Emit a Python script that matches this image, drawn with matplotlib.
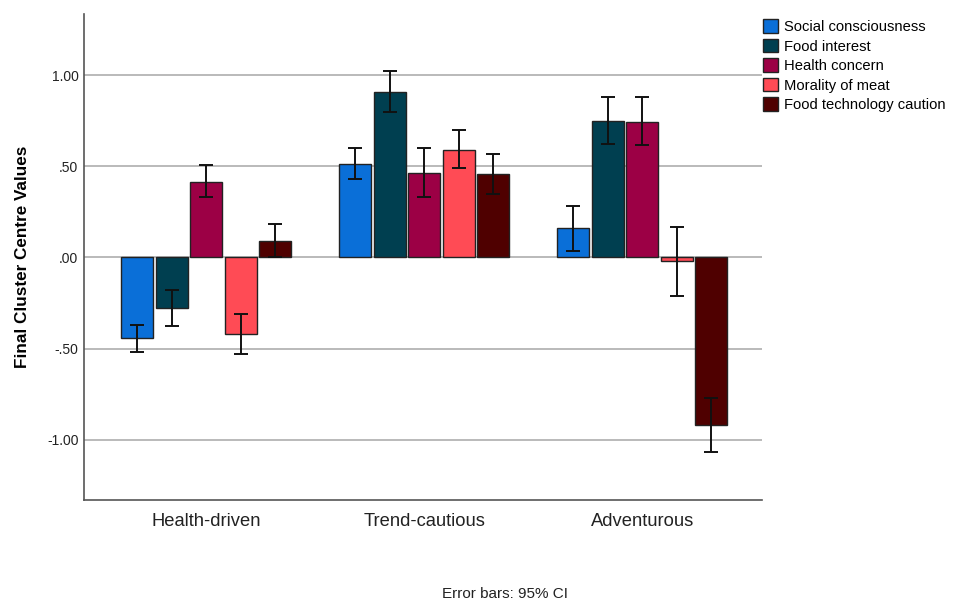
import matplotlib
matplotlib.use("Agg")
import matplotlib.pyplot as plt
import numpy as np
from matplotlib.patches import Patch

plt.rcParams['font.family'] = ['Liberation Sans', 'DejaVu Sans']

clusters = ["Health-driven", "Trend-cautious", "Adventurous"]
series = ["Social consciousness", "Food interest", "Health concern",
          "Morality of meat", "Food technology caution"]
colors = ["#0A6FD8", "#003F50", "#9C0045", "#FF4B55", "#4F0000"]

values = {
    "Social consciousness":    [-0.443, 0.512, 0.159],
    "Food interest":           [-0.277, 0.910, 0.748],
    "Health concern":          [0.416, 0.462, 0.744],
    "Morality of meat":        [-0.420, 0.592, -0.020],
    "Food technology caution": [0.090, 0.457, -0.916],
}
ci_low = {
    "Social consciousness":    [-0.520, 0.428, 0.033],
    "Food interest":           [-0.377, 0.800, 0.625],
    "Health concern":          [0.330, 0.333, 0.616],
    "Morality of meat":        [-0.530, 0.488, -0.210],
    "Food technology caution": [0.000, 0.347, -1.066],
}
ci_high = {
    "Social consciousness":    [-0.368, 0.600, 0.280],
    "Food interest":           [-0.180, 1.020, 0.878],
    "Health concern":          [0.505, 0.600, 0.879],
    "Morality of meat":        [-0.310, 0.697, 0.168],
    "Food technology caution": [0.183, 0.565, -0.768],
}
yticks = [-1.0, -0.5, 0.0, 0.5, 1.0]
yticklabels = ["-1.00", "-.50", ".00", ".50", "1.00"]

fig = plt.figure(figsize=(9.56, 6.02), dpi=100)
ax = fig.add_axes([0.0879, 0.1694, 0.7092, 0.8073])

x = np.arange(len(clusters))
width = 0.147
pitch = 0.158
for i, s in enumerate(series):
    pos = x + (i - 2) * pitch
    v = np.array(values[s])
    lo = np.array(ci_low[s])
    hi = np.array(ci_high[s])
    ax.bar(pos, v, width=width, color=colors[i], edgecolor="#222222",
           linewidth=1.0, zorder=3)
    ax.errorbar(pos, v, yerr=[v - lo, hi - v], fmt="none", ecolor="#111111",
                elinewidth=1.4, capsize=5, capthick=1.4, zorder=4)

ax.set_xlim(-0.56, 2.55)
ax.set_ylim(-1.33, 1.335)
ax.set_yticks(yticks)
ax.set_yticklabels(yticklabels, fontsize=10, color="#222222")
ax.set_xticks(x)
ax.set_xticklabels(clusters, fontsize=13.2, color="#222222")
ax.tick_params(axis="x", length=0, pad=9)
ax.tick_params(axis="y", length=0, pad=4)
ax.yaxis.grid(True, color="#b4b4b4", linewidth=1.3, zorder=0)
ax.set_axisbelow(True)
for sp in ["top", "right"]:
    ax.spines[sp].set_visible(False)
for sp in ["left", "bottom"]:
    ax.spines[sp].set_color("#555555")
    ax.spines[sp].set_linewidth(1.2)

ax.set_ylabel("Final Cluster Centre Values", fontsize=12.3, fontweight="bold",
              labelpad=12)

handles = [Patch(facecolor=colors[i], edgecolor="#222222", label=s)
           for i, s in enumerate(series)]
leg = fig.legend(handles=handles, loc="upper left", bbox_to_anchor=(0.7915, 0.978),
                 frameon=False, fontsize=10.6, handlelength=1.05, handleheight=1.05,
                 handletextpad=0.4, labelspacing=0.32, borderaxespad=0)

fig.text(0.528, 0.002, "Error bars: 95% CI", ha="center", va="bottom",
         fontsize=11, color="#222222")

fig.savefig("out.png", dpi=100)
